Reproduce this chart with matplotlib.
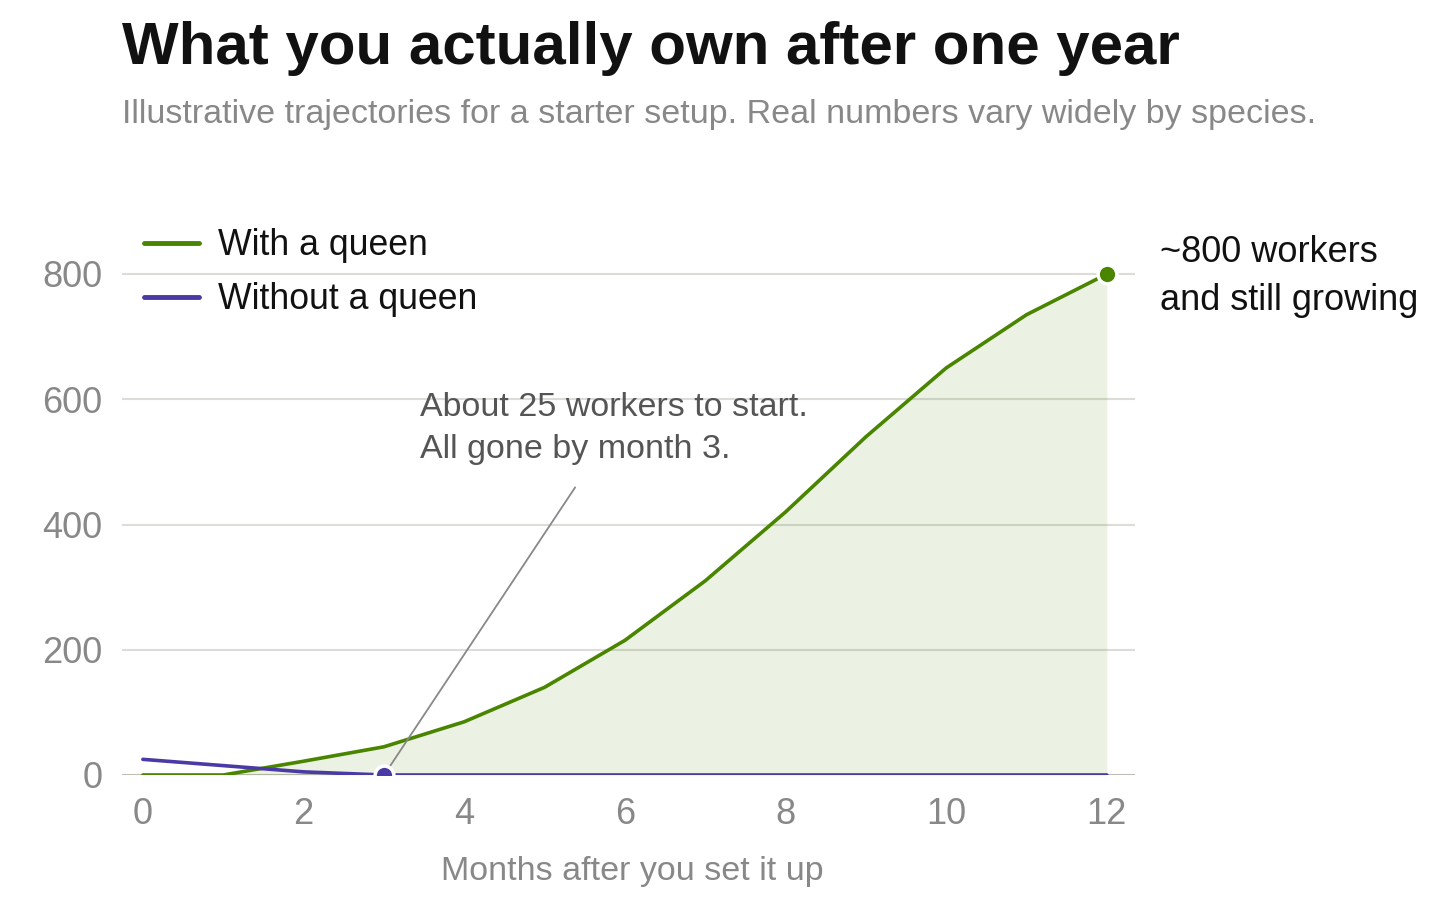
import numpy as np
import matplotlib.pyplot as plt

plt.rcParams['font.family'] = ['Liberation Sans', 'DejaVu Sans']

# data
months = np.arange(0, 13)
with_queen = [0, 0, 22, 45, 85, 140, 215, 310, 420, 540, 650, 735, 800]
without_queen = [25, 15, 5, 0, 0, 0, 0, 0, 0, 0, 0, 0, 0]
series_labels = ['With a queen', 'Without a queen']
x_ticks = [0, 2, 4, 6, 8, 10, 12]
y_ticks = [0, 200, 400, 600, 800]

green = '#4a8500'
purple = '#4a3aa6'
grey = '#888888'

W, H = 1440, 919
fig = plt.figure(figsize=(W / 100, H / 100), dpi=100)

# axes: x=-0.26 at px 122, y=0 at px 775, 0.62625 px per worker
ax = fig.add_axes([122 / W, 1 - 775 / H, (1135 - 122) / W, 900 * 0.62625 / H])
ax.set_xlim(-0.26, 12.35)
ax.set_ylim(0, 900)

for s in ax.spines.values():
    s.set_visible(False)
for y in y_ticks[1:]:
    ax.axhline(y, color='#dcdcd8', lw=1.5, zorder=0)
ax.axhline(0, color='#bdbdb5', lw=1.5, zorder=1)

ax.fill_between(months, with_queen, 0, color=green, alpha=0.11, lw=0, zorder=1)
ax.plot(months, with_queen, color=green, lw=2.6, label=series_labels[0],
        solid_capstyle='round', zorder=3)
ax.plot(months, without_queen, color=purple, lw=2.6, label=series_labels[1],
        solid_capstyle='round', zorder=3)

# end points
ax.plot(months[-1], with_queen[-1], 'o', ms=13.5, color=green, mec='white', mew=2.5,
        zorder=5, clip_on=False)
ax.plot(months[3], without_queen[3], 'o', ms=13.5, color=purple, mec='white', mew=2.5,
        zorder=5)

ax.set_xticks(x_ticks)
ax.set_yticks(y_ticks)
ax.tick_params(length=0, labelsize=26, labelcolor=grey)
ax.tick_params(axis='x', pad=16)
ax.tick_params(axis='y', pad=14)
ax.set_xlabel('Months after you set it up', fontsize=24.5, color=grey)
ax.xaxis.set_label_coords(0.504, -0.143)

leg = ax.legend(loc='upper left', bbox_to_anchor=(144 / W, 1 - 228 / H),
                bbox_transform=fig.transFigure, frameon=False, fontsize=25.7,
                handlelength=1.55, handletextpad=0.52, labelspacing=0.54,
                borderpad=0, borderaxespad=0)
for t in leg.get_texts():
    t.set_color('#111111')
for l in leg.get_lines():
    l.set_linewidth(3.5)

# annotation for the queenless colony
ax.annotate('', xy=(3.06, 11), xytext=(5.4, 463),
            arrowprops=dict(arrowstyle='-', color=grey, lw=1.3))
ax.text(3.45, 612, 'About 25 workers to start.\nAll gone by month 3.',
        fontsize=24.5, color='#555555', va='top', ha='left', linespacing=1.49)

fig.text(1160 / W, 1 - 235 / H, '~800 workers\nand still growing', fontsize=26,
         color='#111111', va='top', ha='left', linespacing=1.5)

fig.text(122 / W, 1 - 49 / H, 'What you actually own after one year',
         fontsize=43.2, fontweight='bold', color='#111111', va='center', ha='left')
fig.text(122 / W, 1 - 115 / H,
         'Illustrative trajectories for a starter setup. Real numbers vary widely by species.',
         fontsize=24.5, color=grey, va='center', ha='left')

fig.savefig('out.png', dpi=100)
